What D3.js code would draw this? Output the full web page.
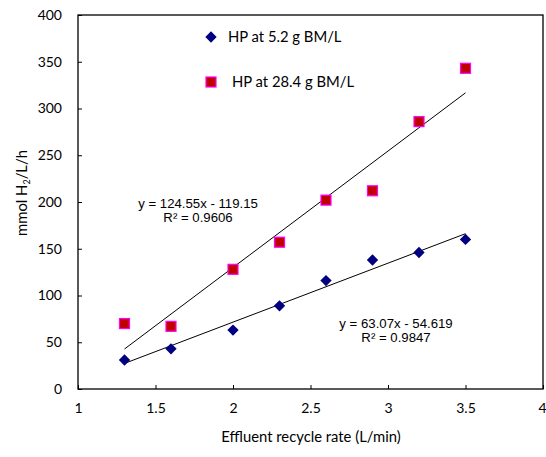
<!DOCTYPE html>
<html>
<head>
<meta charset="utf-8">
<script src="https://cdn.jsdelivr.net/npm/d3@7"></script>
<style>
  body { margin: 0; background: #fff; }
  .tick text { font-family: Lato, "Open Sans", sans-serif; font-size: 14px; fill: #000; }
  .eq { font-family: "Liberation Sans", Arial, sans-serif; font-size: 13.2px; fill: #000; }
  .lbl { font-family: Lato, "Open Sans", sans-serif; font-size: 14.8px; fill: #000; }
</style>
</head>
<body>
<svg class="chart" width="546" height="457"></svg>
<script>
// recycle rate, L/min
var rates = [1.3, 1.6, 2.0, 2.3, 2.6, 2.9, 3.2, 3.5];
// mmol H2/L/h
var lowBM = [31, 43, 63, 89, 116, 138, 146, 160];
var highBM = [70, 67, 128, 157, 202, 212, 286, 343];

var seriesNames = ["HP at 5.2 g BM/L", "HP at 28.4 g BM/L"];
// linear trend lines as printed on the chart
var lowFit = [63.07, -54.619];
var highFit = [124.55, -119.15];
var lowFitText = ["y = 63.07x - 54.619", "R\u00b2 = 0.9847"];
var highFitText = ["y = 124.55x - 119.15", "R\u00b2 = 0.9606"];

var xTicks = [1, 1.5, 2, 2.5, 3, 3.5, 4];
var yTicks = [0, 50, 100, 150, 200, 250, 300, 350, 400];

var svg = d3.select(".chart");
var margin = {top: 15, right: 3, bottom: 68, left: 78};
var width = 546 - margin.left - margin.right;
var height = 457 - margin.top - margin.bottom;

var x = d3.scaleLinear().domain([1, 4]).range([0, width]);
var y = d3.scaleLinear().domain([0, 400]).range([height, 0]);

var g = svg.append("g")
    .attr("transform", "translate(" + margin.left + "," + margin.top + ")");

g.append("rect")
    .attr("width", width)
    .attr("height", height)
    .attr("fill", "none")
    .attr("stroke", "#000")
    .attr("stroke-width", 1.3);

var xAxis = g.append("g")
    .attr("transform", "translate(0," + height + ")")
    .call(d3.axisBottom(x).tickValues(xTicks).tickSizeInner(-4).tickSizeOuter(0).tickPadding(14)
        .tickFormat(d3.format("")));
xAxis.select(".domain").remove();
xAxis.selectAll(".tick text").filter(function (d) { return d === 4; })
    .attr("text-anchor", "end").attr("dx", "3");

var yAxis = g.append("g")
    .call(d3.axisLeft(y).tickValues(yTicks).tickSizeInner(-4).tickSizeOuter(0).tickPadding(16));
yAxis.select(".domain").remove();

// trend lines
function trend(fit) {
    var x0 = d3.min(rates), x1 = d3.max(rates);
    return [[x0, fit[0] * x0 + fit[1]], [x1, fit[0] * x1 + fit[1]]];
}
var line = d3.line().x(function (d) { return x(d[0]); }).y(function (d) { return y(d[1]); });
[lowFit, highFit].forEach(function (f) {
    g.append("path")
        .attr("d", line(trend(f)))
        .attr("stroke", "#000")
        .attr("stroke-width", 1)
        .attr("fill", "none");
});

var diamond = d3.symbol().type(d3.symbolSquare).size(64);

g.selectAll(".low")
    .data(rates)
    .enter().append("path")
    .attr("class", "low")
    .attr("d", diamond)
    .attr("transform", function (d, i) { return "translate(" + x(d) + "," + y(lowBM[i]) + ") rotate(45)"; })
    .attr("fill", "#000080");

g.selectAll(".high")
    .data(rates)
    .enter().append("rect")
    .attr("class", "high")
    .attr("x", function (d) { return x(d) - 5; })
    .attr("y", function (d, i) { return y(highBM[i]) - 5; })
    .attr("width", 10)
    .attr("height", 10)
    .attr("fill", "#c00000")
    .attr("stroke", "#ff00ff")
    .attr("stroke-width", 1.2);

// equations
function eqText(lines, cx, cy) {
    lines.forEach(function (t, i) {
        g.append("text")
            .attr("class", "eq")
            .attr("x", cx)
            .attr("y", cy + i * 14.5)
            .attr("text-anchor", "middle")
            .attr("dy", "0.35em")
            .text(t);
    });
}
eqText(highFitText, 198 - margin.left, 203 - margin.top);
eqText(lowFitText, 396 - margin.left, 323 - margin.top);

// legend
var legend = svg.append("g");
legend.append("path")
    .attr("d", diamond)
    .attr("transform", "translate(211,37) rotate(45)")
    .attr("fill", "#000080");
legend.append("text").attr("class", "lbl")
    .attr("x", 228).attr("y", 37).attr("dy", "0.35em")
    .text(seriesNames[0]);
legend.append("rect")
    .attr("x", 206).attr("y", 77).attr("width", 10).attr("height", 10)
    .attr("fill", "#c00000").attr("stroke", "#ff00ff").attr("stroke-width", 1.2);
legend.append("text").attr("class", "lbl")
    .attr("x", 232).attr("y", 82).attr("dy", "0.35em")
    .text(seriesNames[1]);

// axis titles
svg.append("text").attr("class", "lbl")
    .attr("x", 311)
    .attr("y", 442)
    .attr("text-anchor", "middle")
    .text("Effluent recycle rate (L/min)");

var yt = svg.append("text").attr("class", "lbl")
    .attr("transform", "translate(27,193) rotate(-90)")
    .attr("text-anchor", "middle");
yt.append("tspan").text("mmol H");
yt.append("tspan").attr("font-size", "9px").attr("dy", "3").text("2");
yt.append("tspan").attr("dy", "-3").text("/L/h");
</script>
</body>
</html>
